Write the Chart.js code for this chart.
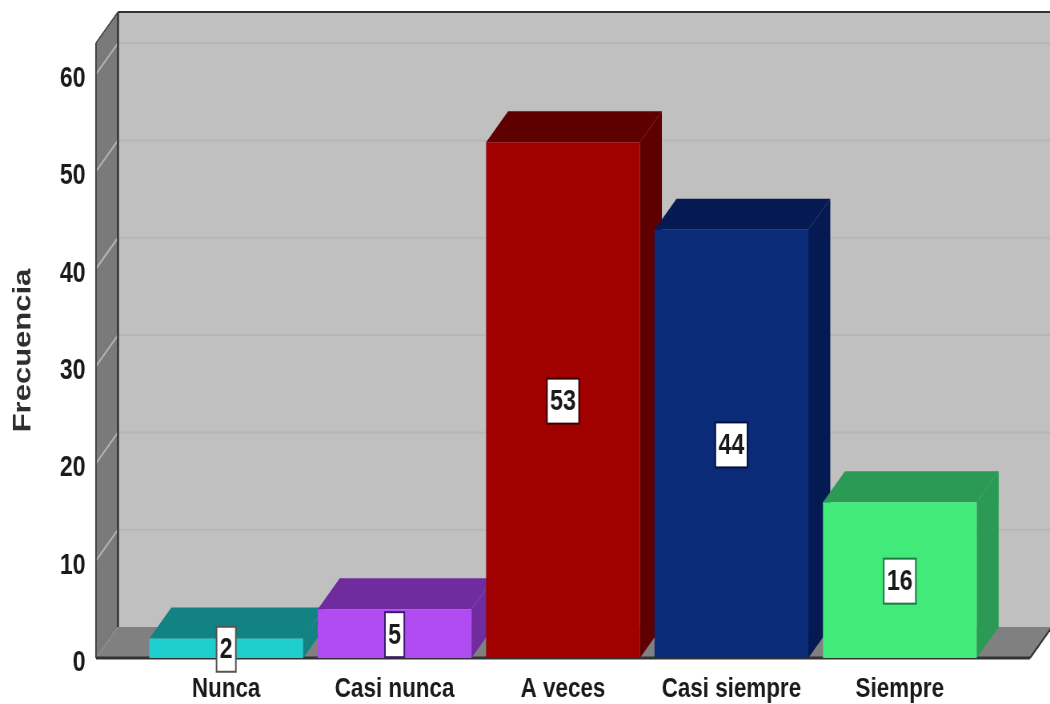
<!DOCTYPE html>
<html>
<head>
<meta charset="utf-8">
<title>Frecuencia</title>
<script src="https://cdn.jsdelivr.net/npm/chart.js@4/dist/chart.umd.min.js"></script>
<style>
    html, body { margin: 0; padding: 0; background: #fff; overflow: hidden; }
    /* the canvas is wider than the page and squeezed to fit, which gives the narrow lettering */
    canvas { display: block; width: 1050px !important; height: 704px !important; }
</style>
</head>
<body>
<canvas id="chart" width="1312" height="704"></canvas>
<script>
// Data
const categories = ['Nunca', 'Casi nunca', 'A veces', 'Casi siempre', 'Siempre'];
const frecuencia = [2, 5, 53, 44, 16];
const yTicks = [0, 10, 20, 30, 40, 50, 60];
const yMax = 63.2;

// Colors
const frontColors = ['#1fcfcf', '#b04cf2', '#a00000', '#0b2a78', '#42ea7a'];
const depthColors = ['#128282', '#702b9e', '#5e0000', '#051a52', '#2a9a55'];
const labelBorders = ['#555555', '#3a1a6e', '#3a0000', '#03123c', '#1d7a40'];

// Horizontal squeeze of the canvas, sizes below are page pixels divided by it
const sx = 1050 / 1312;

// 3D look
const depthX = 22 / sx;
const depthY = -31;
const wallOverhang = 46 / sx;

const fontFamily = '"Liberation Sans", Arial, sans-serif';

function fillPoly(ctx, points, color) {
    ctx.fillStyle = color;
    ctx.beginPath();
    points.forEach((p, i) => i ? ctx.lineTo(p[0], p[1]) : ctx.moveTo(p[0], p[1]));
    ctx.closePath();
    ctx.fill();
}

function strokeLine(ctx, x1, y1, x2, y2, color, width) {
    ctx.strokeStyle = color;
    ctx.lineWidth = width;
    ctx.beginPath();
    ctx.moveTo(x1, y1);
    ctx.lineTo(x2, y2);
    ctx.stroke();
}

// Walls, floor, grid lines and the top and side faces of the bars
const box3d = {
    id: 'box3d',
    beforeDatasetsDraw(chart) {
        const { ctx, chartArea, scales } = chart;
        const left = chartArea.left - wallOverhang;
        const right = chartArea.right + wallOverhang;
        const top = chartArea.top;
        const bottom = chartArea.bottom;

        ctx.save();
        // back wall
        fillPoly(ctx, [[left + depthX, top + depthY], [right + depthX, top + depthY],
            [right + depthX, bottom + depthY], [left + depthX, bottom + depthY]], '#c0c0c0');
        // floor
        fillPoly(ctx, [[left, bottom], [left + depthX, bottom + depthY],
            [right + depthX, bottom + depthY], [right, bottom]], '#808080');
        // side wall
        fillPoly(ctx, [[left, bottom], [left, top], [left + depthX, top + depthY],
            [left + depthX, bottom + depthY]], '#7a7a7a');

        yTicks.forEach(v => {
            if (v === 0) return;
            const y = scales.y.getPixelForValue(v);
            strokeLine(ctx, left + depthX, y + depthY, right + depthX, y + depthY, '#b6b6b6', 2);
            strokeLine(ctx, left, y, left + depthX, y + depthY, '#b4b4b4', 2);
        });

        // dark edges
        strokeLine(ctx, left + depthX, top + depthY, left + depthX, bottom + depthY, '#333333', 2.5);
        strokeLine(ctx, left + depthX, top + depthY, right + depthX, top + depthY, '#333333', 2);
        strokeLine(ctx, left, bottom, left, top, '#444444', 2);
        strokeLine(ctx, left, top, left + depthX, top + depthY, '#444444', 1.5);
        strokeLine(ctx, left, bottom, right, bottom, '#333333', 3);
        strokeLine(ctx, right, bottom, right + depthX, bottom + depthY, '#333333', 2);

        // bar depth
        chart.getDatasetMeta(0).data.forEach((bar, i) => {
            const { x, y, base, width } = bar.getProps(['x', 'y', 'base', 'width'], true);
            const l = x - width / 2;
            const r = x + width / 2;
            fillPoly(ctx, [[l, y], [l + depthX, y + depthY], [r + depthX, y + depthY], [r, y]], depthColors[i]);
            fillPoly(ctx, [[r, y], [r + depthX, y + depthY], [r + depthX, base + depthY], [r, base]], depthColors[i]);
        });
        ctx.restore();
    },
    afterDatasetsDraw(chart) {
        const { ctx } = chart;
        ctx.save();
        ctx.font = 'bold 29px ' + fontFamily;
        ctx.textAlign = 'center';
        ctx.textBaseline = 'middle';
        chart.getDatasetMeta(0).data.forEach((bar, i) => {
            const { x, y, base } = bar.getProps(['x', 'y', 'base'], true);
            const cy = (y + base) / 2 + 1;
            const text = String(frecuencia[i]);
            const w = ctx.measureText(text).width + 8;
            const h = 45;
            ctx.fillStyle = '#ffffff';
            ctx.fillRect(x - w / 2, cy - h / 2, w, h);
            ctx.strokeStyle = labelBorders[i];
            ctx.lineWidth = 2;
            ctx.strokeRect(x - w / 2, cy - h / 2, w, h);
            ctx.fillStyle = '#1a1a1a';
            ctx.fillText(text, x, cy + 1);
        });
        ctx.restore();
    }
};

new Chart(document.getElementById('chart').getContext('2d'), {
    type: 'bar',
    data: {
        labels: categories,
        datasets: [{
            label: 'Frecuencia',
            data: frecuencia,
            backgroundColor: frontColors,
            borderWidth: 0,
            categoryPercentage: 1,
            barPercentage: 0.913
        }]
    },
    options: {
        responsive: false,
        animation: false,
        layout: { padding: { top: 43, right: 66 / sx, left: 0, bottom: 0 } },
        plugins: { legend: { display: false }, tooltip: { enabled: false } },
        scales: {
            x: {
                grid: { display: false },
                border: { display: false },
                ticks: {
                    color: '#1a1a1a',
                    padding: 6,
                    maxRotation: 0,
                    autoSkip: false,
                    font: { family: fontFamily, size: 28, weight: 'bold' }
                },
                afterFit(axis) {
                    axis.height = 46;
                    axis.paddingLeft = 0;
                    axis.paddingRight = 0;
                }
            },
            y: {
                min: 0,
                max: yMax,
                grid: { display: false },
                border: { display: false },
                afterBuildTicks(axis) { axis.ticks = yTicks.map(v => ({ value: v })); },
                afterFit(axis) {
                    axis.width = 142 / sx;
                    axis.paddingTop = 0;
                    axis.paddingBottom = 0;
                },
                ticks: {
                    color: '#1a1a1a',
                    padding: 50 / sx,
                    labelOffset: 5,
                    font: { family: fontFamily, size: 29, weight: 'bold' }
                },
                title: {
                    display: true,
                    text: 'Frecuencia',
                    color: '#2e2e2e',
                    padding: { top: 11, bottom: 0 },
                    font: { family: fontFamily, size: 31, weight: 'bold' }
                }
            }
        }
    },
    plugins: [box3d]
});
</script>
</body>
</html>
